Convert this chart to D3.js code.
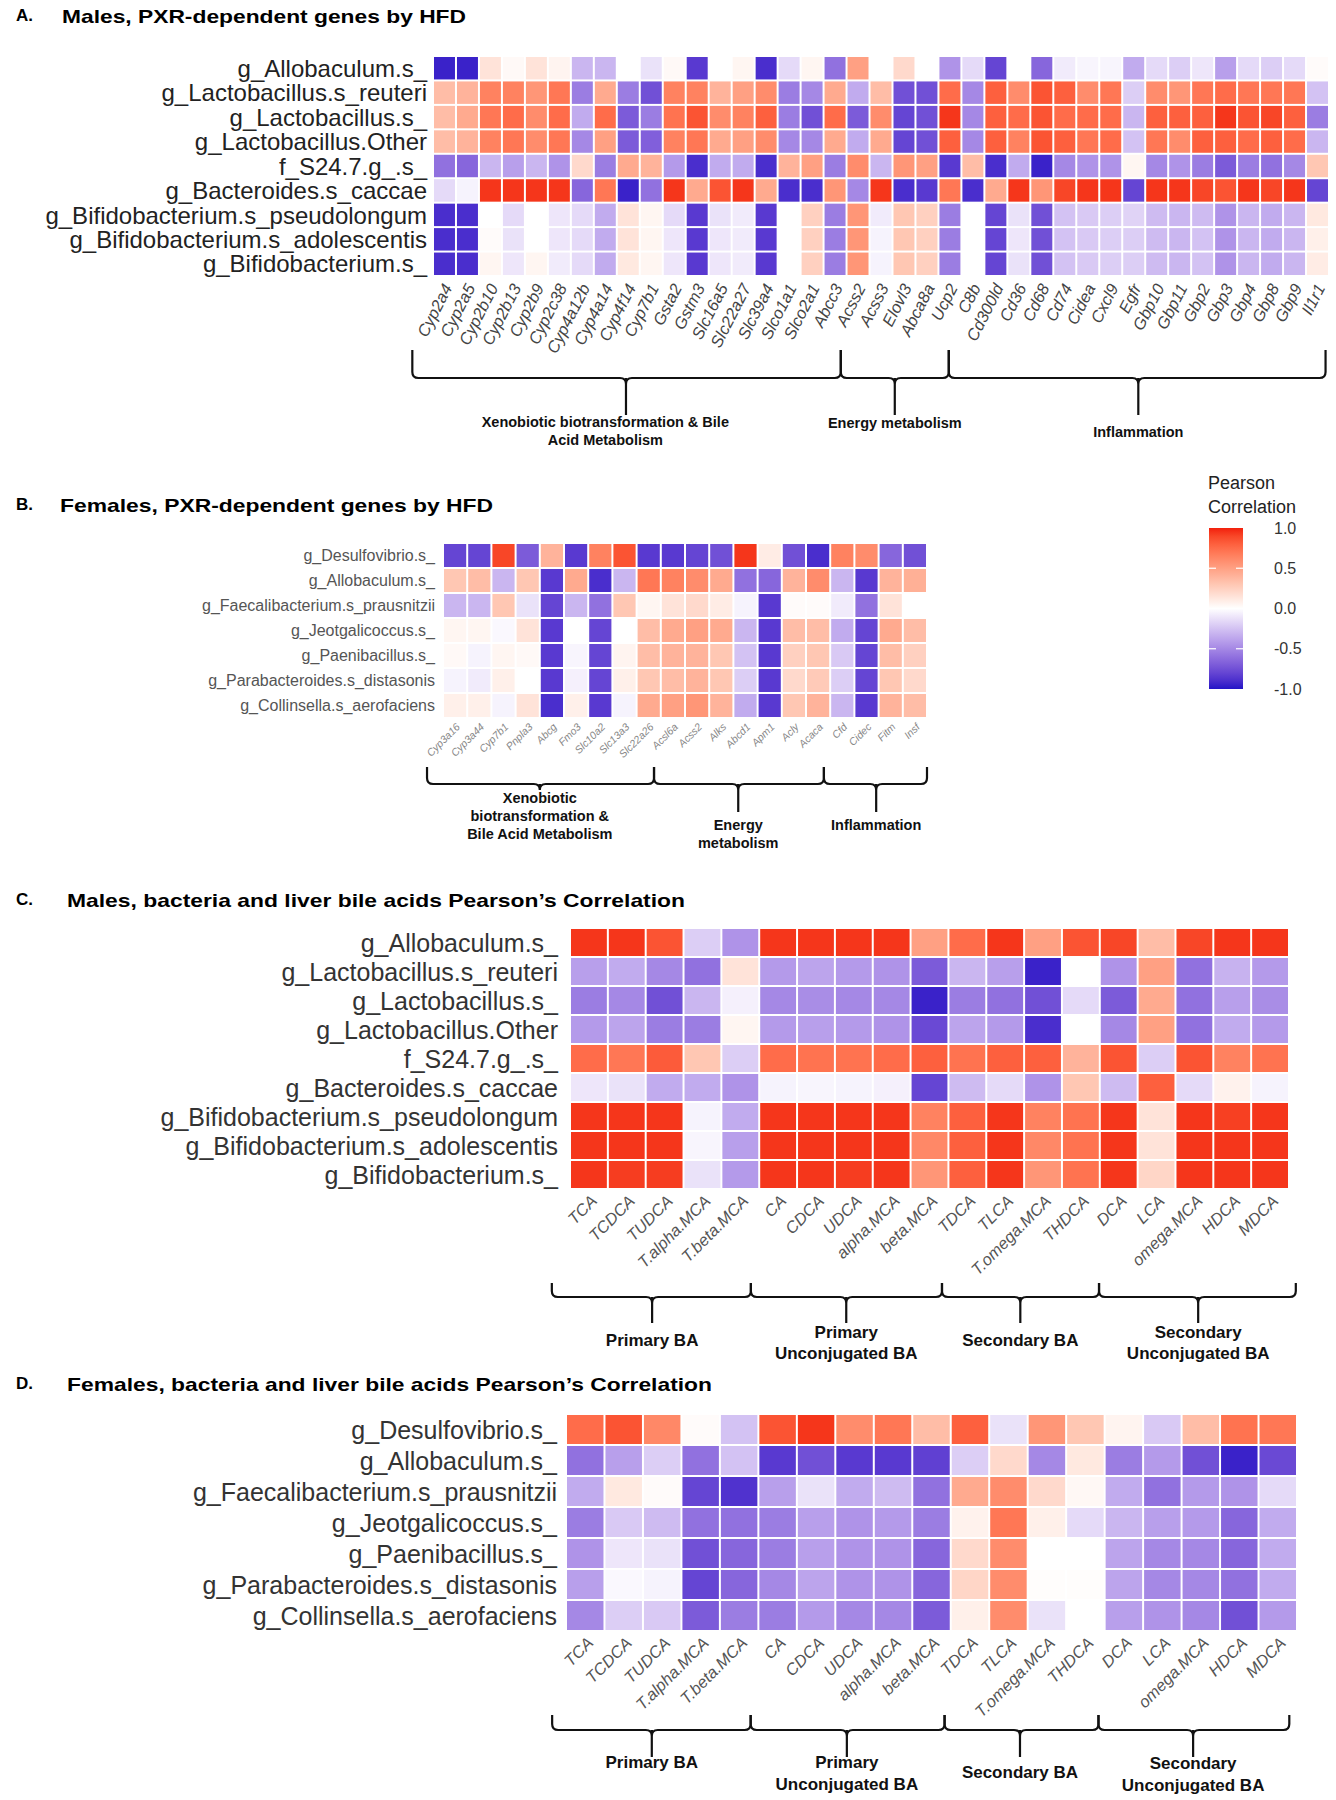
<!DOCTYPE html>
<html>
<head>
<meta charset="utf-8">
<script src="https://cdn.jsdelivr.net/npm/d3@7"></script>
<style>
body { margin: 0; background: #fff; }
svg { display: block; font-family: "Liberation Sans", Arial, sans-serif; }
</style>
</head>
<body>
<div id="chart"></div>
<script>
var width = 1336; // page width
var height = 1800; // page height

// ---- panel A : males, PXR-dependent genes ----
var rowsA = ["g_Allobaculum.s_", "g_Lactobacillus.s_reuteri", "g_Lactobacillus.s_", "g_Lactobacillus.Other",
	"f_S24.7.g_.s_", "g_Bacteroides.s_caccae", "g_Bifidobacterium.s_pseudolongum",
	"g_Bifidobacterium.s_adolescentis", "g_Bifidobacterium.s_"];
var colsA = ["Cyp2a4", "Cyp2a5", "Cyp2b10", "Cyp2b13", "Cyp2b9", "Cyp2c38", "Cyp4a12b", "Cyp4a14", "Cyp4f14",
	"Cyp7b1", "Gsta2", "Gstm3", "Slc16a5", "Slc22a27", "Slc39a4", "Slco1a1", "Slco2a1", "Abcc3", "Acss2",
	"Acss3", "Elovl3", "Abca8a", "Ucp2", "C8b", "Cd300ld", "Cd36", "Cd68", "Cd74", "Cidea", "Cxcl9", "Egfr",
	"Gbp10", "Gbp11", "Gbp2", "Gbp3", "Gbp4", "Gbp8", "Gbp9", "Il1r1"];
var valuesA = [
	[-0.95,-0.95,0.15,0.03,0.15,0.06,-0.3,-0.3,0,-0.12,0.03,-0.85,0,0.05,-0.9,-0.15,0.05,-0.6,0.5,0,0.2,0,-0.45,-0.15,-0.8,0,-0.65,-0.08,-0.04,-0.04,-0.35,-0.15,-0.2,-0.1,-0.4,-0.15,-0.2,-0.15,0.02],
	[0.35,0.4,0.65,0.65,0.55,0.7,-0.55,0.45,-0.55,-0.75,0.65,0.65,0.4,0.5,0.6,-0.55,-0.5,0.45,-0.35,0.35,-0.75,-0.75,0.75,-0.5,0.8,0.6,0.85,0.8,0.6,0.7,-0.2,0.6,0.55,0.7,0.75,0.7,0.7,0.7,-0.25],
	[0.35,0.45,0.7,0.75,0.6,0.75,-0.35,0.75,-0.7,-0.55,0.72,0.85,0.6,0.65,0.8,-0.55,-0.75,0.75,-0.7,0.6,-0.8,-0.75,0.95,-0.5,0.8,0.75,0.85,0.75,0.75,0.75,-0.3,0.8,0.8,0.8,0.95,0.85,0.9,0.8,-0.55],
	[0.35,0.4,0.65,0.7,0.6,0.7,-0.5,0.5,-0.7,-0.68,0.65,0.7,0.45,0.5,0.6,-0.5,-0.5,0.45,-0.35,0.45,-0.8,-0.75,0.8,-0.5,0.8,0.65,0.85,0.8,0.7,0.75,-0.25,0.7,0.6,0.8,0.8,0.75,0.8,0.75,-0.3],
	[-0.6,-0.65,-0.3,-0.4,-0.3,-0.45,0.2,-0.55,0.45,0.4,-0.42,-0.9,-0.35,-0.35,-0.9,0.4,0.5,-0.55,0.6,-0.3,0.55,0.5,-0.85,0.35,-0.9,-0.35,-0.95,-0.5,-0.45,-0.45,0.05,-0.5,-0.45,-0.55,-0.7,-0.55,-0.6,-0.5,0.3],
	[-0.15,-0.05,0.95,0.95,0.95,0.95,-0.65,0.7,-0.95,-0.6,0.95,0.45,0.85,0.95,0.45,-0.9,-0.9,0.55,-0.5,0.95,-0.9,-0.85,0.7,-0.9,0.45,0.95,0.55,0.9,0.95,0.95,-0.8,0.95,0.95,0.9,0.85,0.95,0.9,0.95,-0.8],
	[-0.9,-0.9,0,-0.15,0,-0.1,-0.15,-0.35,0.15,0.05,-0.15,-0.85,-0.12,-0.08,-0.85,0,0.25,-0.55,0.55,-0.08,0.3,0.25,-0.55,0,-0.8,-0.12,-0.75,-0.25,-0.22,-0.2,-0.18,-0.28,-0.3,-0.28,-0.45,-0.3,-0.35,-0.3,0.12],
	[-0.9,-0.9,0.02,-0.12,0,-0.1,-0.15,-0.35,0.15,0.05,-0.1,-0.85,-0.1,-0.08,-0.85,0,0.25,-0.55,0.55,-0.05,0.3,0.25,-0.55,0,-0.8,-0.1,-0.75,-0.25,-0.22,-0.2,-0.2,-0.28,-0.3,-0.25,-0.45,-0.3,-0.35,-0.3,0.08],
	[-0.9,-0.9,0.05,-0.1,0.05,-0.08,-0.15,-0.35,0.12,0.05,-0.1,-0.85,-0.1,-0.08,-0.85,0,0.25,-0.55,0.55,-0.05,0.3,0.25,-0.55,0,-0.8,-0.12,-0.75,-0.25,-0.22,-0.2,-0.2,-0.28,-0.3,-0.25,-0.45,-0.3,-0.35,-0.3,0.1]
];
var groupsA = [["Xenobiotic biotransformation & Bile", "Acid Metabolism"], ["Energy metabolism"], ["Inflammation"]];

// ---- panel B : females, PXR-dependent genes ----
var rowsB = ["g_Desulfovibrio.s_", "g_Allobaculum.s_", "g_Faecalibacterium.s_prausnitzii", "g_Jeotgalicoccus.s_",
	"g_Paenibacillus.s_", "g_Parabacteroides.s_distasonis", "g_Collinsella.s_aerofaciens"];
var colsB = ["Cyp3a16", "Cyp3a44", "Cyp7b1", "Pnpla3", "Abcg", "Fmo3", "Slc10a2", "Slc13a3", "Slc22a26",
	"Acsl6a", "Acss2", "Alks", "Abcd1", "Apm1", "Acly", "Acaca", "Cfd", "Cidec", "Fitm", "Insf"];
var valuesB = [
	[-0.8,-0.8,0.9,-0.7,0.4,-0.85,0.65,0.85,-0.85,-0.85,-0.8,-0.75,0.95,0.1,-0.75,-0.9,0.65,0.6,-0.65,-0.75],
	[0.3,0.35,-0.3,0.3,-0.85,0.45,-0.9,-0.3,0.7,0.65,0.6,0.45,-0.6,-0.65,0.4,0.6,-0.3,-0.85,0.4,0.42],
	[-0.3,-0.3,0.3,-0.12,-0.8,-0.3,-0.6,0.3,0.05,0.15,0.2,0.1,-0.05,-0.85,0.02,0.02,-0.08,-0.6,0.15,0],
	[0.05,0.05,-0.03,0.15,-0.85,0,-0.8,0,0.35,0.45,0.5,0.45,-0.3,-0.85,0.35,0.35,-0.35,-0.8,0.45,0.35],
	[0.03,-0.05,0.05,0.03,-0.85,-0.04,-0.8,0.06,0.35,0.4,0.4,0.3,-0.25,-0.85,0.25,0.3,-0.22,-0.8,0.35,0.25],
	[-0.05,-0.08,0.08,0,-0.85,-0.06,-0.8,0.08,0.3,0.35,0.4,0.3,-0.2,-0.85,0.2,0.28,-0.2,-0.8,0.3,0.2],
	[0.08,0.08,-0.05,0.15,-0.9,0.08,-0.85,-0.05,0.45,0.5,0.55,0.4,-0.35,-0.85,0.3,0.4,-0.3,-0.85,0.4,0.35]
];
var groupsB = [["Xenobiotic", "biotransformation &", "Bile Acid Metabolism"], ["Energy", "metabolism"], ["Inflammation"]];

// ---- panel C : males, bile acids ----
var rowsC = rowsA;
var colsC = ["TCA", "TCDCA", "TUDCA", "T.alpha.MCA", "T.beta.MCA", "CA", "CDCA", "UDCA", "alpha.MCA", "beta.MCA",
	"TDCA", "TLCA", "T.omega.MCA", "THDCA", "DCA", "LCA", "omega.MCA", "HDCA", "MDCA"];
var valuesC = [
	[0.95,0.95,0.85,-0.2,-0.45,0.95,0.95,0.95,0.95,0.5,0.75,0.95,0.5,0.85,0.9,0.35,0.9,0.95,0.95],
	[-0.4,-0.35,-0.5,-0.6,0.15,-0.42,-0.38,-0.42,-0.45,-0.7,-0.3,-0.4,-0.95,0,-0.45,0.5,-0.6,-0.32,-0.42],
	[-0.55,-0.5,-0.75,-0.3,-0.06,-0.5,-0.48,-0.5,-0.5,-0.95,-0.55,-0.6,-0.75,-0.15,-0.7,0.45,-0.6,-0.4,-0.48],
	[-0.42,-0.38,-0.55,-0.55,0.05,-0.42,-0.4,-0.42,-0.45,-0.78,-0.38,-0.42,-0.9,0,-0.5,0.5,-0.6,-0.35,-0.42],
	[0.75,0.7,0.82,0.3,-0.2,0.75,0.72,0.72,0.75,0.8,0.72,0.8,0.8,0.4,0.85,-0.2,0.85,0.65,0.72],
	[-0.1,-0.12,-0.35,-0.35,-0.45,-0.05,-0.04,-0.05,-0.06,-0.8,-0.28,-0.15,-0.45,0.3,-0.28,0.8,-0.15,0.07,-0.05],
	[0.95,0.95,0.95,-0.05,-0.35,0.95,0.95,0.95,0.95,0.65,0.8,0.95,0.65,0.72,0.95,0.15,0.95,0.92,0.95],
	[0.95,0.95,0.95,-0.04,-0.4,0.95,0.95,0.95,0.95,0.62,0.8,0.95,0.62,0.72,0.95,0.15,0.95,0.95,0.95],
	[0.95,0.93,0.93,-0.12,-0.42,0.95,0.95,0.93,0.95,0.55,0.8,0.95,0.55,0.72,0.95,0.22,0.95,0.95,0.95]
];
var groupsBA = [["Primary BA"], ["Primary", "Unconjugated BA"], ["Secondary  BA"], ["Secondary", "Unconjugated BA"]];

// ---- panel D : females, bile acids ----
var rowsD = rowsB;
var colsD = colsC;
var valuesD = [
	[0.75,0.85,0.62,0.02,-0.25,0.85,0.95,0.6,0.7,0.35,0.8,-0.12,0.55,0.3,0.06,-0.22,0.35,0.72,0.7],
	[-0.6,-0.4,-0.2,-0.6,-0.25,-0.85,-0.75,-0.85,-0.85,-0.82,-0.2,0.2,-0.5,0.12,-0.55,-0.42,-0.75,-0.95,-0.78],
	[-0.35,0.12,0.02,-0.8,-0.88,-0.4,-0.12,-0.35,-0.28,-0.6,0.45,0.6,0.2,0.04,-0.35,-0.6,-0.42,-0.45,-0.15],
	[-0.55,-0.22,-0.28,-0.6,-0.6,-0.55,-0.4,-0.45,-0.42,-0.55,0.07,0.7,0.08,-0.15,-0.3,-0.4,-0.42,-0.65,-0.35],
	[-0.45,-0.1,-0.12,-0.75,-0.65,-0.55,-0.4,-0.45,-0.45,-0.65,0.2,0.6,0,0,-0.38,-0.5,-0.5,-0.65,-0.35],
	[-0.4,-0.03,-0.05,-0.8,-0.65,-0.5,-0.38,-0.45,-0.45,-0.65,0.22,0.6,0.01,0.01,-0.38,-0.5,-0.5,-0.6,-0.35],
	[-0.5,-0.2,-0.22,-0.7,-0.55,-0.55,-0.42,-0.5,-0.5,-0.7,0.08,0.6,-0.12,0,-0.4,-0.45,-0.5,-0.75,-0.42]
];

// legend
var legendTicks = [1.0, 0.5, 0.0, -0.5, -1.0];

// shared colour scale (blue - white - red)
var color = d3.scaleLinear()
	.domain([-1, 0, 1])
	.range(["#2314c6", "#ffffff", "#f2200c"])
	.interpolate(d3.interpolateLab);

var svg = d3.select("#chart").append("svg")
	.attr("width", width)
	.attr("height", height);

// layout of each panel (positions only, values come from the arrays above)
var panels = [
	{letter: "A.", title: "Males, PXR-dependent genes by HFD", tx: 62, ty: 23, tw: 404,
		rows: rowsA, cols: colsA, values: valuesA, x0: 433, x1: 1329, y0: 56, y1: 276,
		rowX: 427, rowFont: 24, rowColor: "#222",
		colFont: 16.5, colAngle: 63, colDx: 3, colDy: 9, colColor: "#444",
		groups: groupsA, ticks: [-0.9, 17.75, 22.45, 38.85], spikes: [8.4, 20.1, 30.7],
		labelAt: [7.5, 20.1, 30.7], bTop: 350, bH: 378, bSpike: [415, 415, 415],
		labelY: [427, 428, 437], labelFont: 14.5, lineGap: 18},
	{letter: "B.", title: "Females, PXR-dependent genes by HFD", tx: 60, ty: 512, tw: 433,
		rows: rowsB, cols: colsB, values: valuesB, x0: 443, x1: 927, y0: 543, y1: 718,
		rowX: 435, rowFont: 16, rowColor: "#555",
		colFont: 10.5, colAngle: 45, colDx: 3, colDy: 7, colColor: "#888",
		groups: groupsB, ticks: [-0.66, 8.72, 15.74, 20.0], spikes: [4.0, 12.2, 17.9],
		labelAt: [4.0, 12.2, 17.9], bTop: 767, bH: 784, bSpike: [788, 812, 812],
		labelY: [803, 830, 830], labelFont: 14.5, lineGap: 18},
	{letter: "C.", title: "Males, bacteria and liver bile acids Pearson\u2019s Correlation", tx: 67, ty: 907, tw: 618,
		rows: rowsC, cols: colsC, values: valuesC, x0: 570, x1: 1289, y0: 928, y1: 1189,
		rowX: 558, rowFont: 25, rowColor: "#333",
		colFont: 16.5, colAngle: 45, colDx: 5, colDy: 9, colColor: "#555",
		groups: groupsBA, ticks: [-0.48, 4.78, 9.83, 13.98, 19.18], spikes: [2.17, 7.3, 11.9, 16.6],
		labelAt: [2.17, 7.3, 11.9, 16.6], bTop: 1283, bH: 1297, bSpike: [1323, 1323, 1323, 1323],
		labelY: [1346, 1338, 1346, 1338], labelFont: 17, lineGap: 21},
	{letter: "D.", title: "Females, bacteria and liver bile acids Pearson\u2019s Correlation", tx: 67, ty: 1391, tw: 645,
		rows: rowsD, cols: colsD, values: valuesD, x0: 566, x1: 1297, y0: 1414, y1: 1631,
		rowX: 557, rowFont: 25, rowColor: "#333",
		colFont: 16.5, colAngle: 45, colDx: 5, colDy: 9, colColor: "#555",
		groups: groupsBA, ticks: [-0.36, 4.8, 9.84, 13.84, 18.8], spikes: [2.23, 7.3, 11.8, 16.3],
		labelAt: [2.23, 7.3, 11.8, 16.3], bTop: 1715, bH: 1730, bSpike: [1757, 1757, 1757, 1757],
		labelY: [1768, 1768, 1778, 1769], labelFont: 17, lineGap: 22}
];

panels.forEach(draw_panel);
draw_legend();

function draw_panel(p) {
	var g = svg.append("g");
	var x = d3.scaleBand().domain(p.cols).range([p.x0, p.x1]);
	var y = d3.scaleBand().domain(p.rows).range([p.y0, p.y1]);

	// title
	g.append("text")
		.attr("x", 16).attr("y", p.ty - 2)
		.style("font-size", "17px").style("font-weight", "bold")
		.text(p.letter);
	g.append("text")
		.attr("x", p.tx).attr("y", p.ty)
		.attr("textLength", p.tw).attr("lengthAdjust", "spacingAndGlyphs")
		.style("font-size", "19px").style("font-weight", "bold")
		.text(p.title);

	// cells
	var cells = [];
	p.values.forEach(function (row, i) {
		row.forEach(function (v, j) {
			cells.push({row: p.rows[i], col: p.cols[j], value: v});
		});
	});
	g.selectAll("rect.cell").data(cells).enter().append("rect")
		.attr("class", "cell")
		.attr("x", d => x(d.col) + 1)
		.attr("y", d => y(d.row) + 1)
		.attr("width", x.bandwidth() - 2)
		.attr("height", y.bandwidth() - 2)
		.attr("fill", d => color(d.value));

	// row labels
	g.selectAll("text.row").data(p.rows).enter().append("text")
		.attr("class", "row")
		.attr("x", p.rowX)
		.attr("y", d => y(d) + y.bandwidth() / 2)
		.attr("dy", "0.36em")
		.attr("text-anchor", "end")
		.style("font-size", p.rowFont + "px")
		.style("fill", p.rowColor)
		.text(d => d);

	// column labels, rotated
	g.selectAll("text.col").data(p.cols).enter().append("text")
		.attr("class", "col")
		.attr("transform", d => `translate(${x(d) + x.bandwidth() / 2 + p.colDx}, ${p.y1 + p.colDy}) rotate(${-p.colAngle})`)
		.attr("text-anchor", "end")
		.attr("dy", "0.35em")
		.style("font-size", p.colFont + "px")
		.style("font-style", "italic")
		.style("fill", p.colColor)
		.text(d => d);

	// curly braces under the columns
	var ux = u => p.x0 + u * x.step();
	var r = 6;
	p.groups.forEach(function (lines, i) {
		var a = ux(p.ticks[i]), b = ux(p.ticks[i + 1]), c = ux(p.spikes[i]);
		var path = `M${a},${p.bTop} L${a},${p.bH - r} Q${a},${p.bH} ${a + r},${p.bH} L${c - r},${p.bH} Q${c},${p.bH} ${c},${p.bH + r}`
			+ ` M${c},${p.bH + r} Q${c},${p.bH} ${c + r},${p.bH} L${b - r},${p.bH} Q${b},${p.bH} ${b},${p.bH - r} L${b},${p.bTop}`
			+ ` M${c},${p.bH} L${c},${Math.max(p.bSpike[i], p.bH + r)}`;
		g.append("path")
			.attr("d", path)
			.attr("fill", "none")
			.attr("stroke", "#111")
			.attr("stroke-width", 2.2);

		lines.forEach(function (line, k) {
			g.append("text")
				.attr("x", ux(p.labelAt[i]))
				.attr("y", p.labelY[i] + k * p.lineGap)
				.attr("text-anchor", "middle")
				.style("font-size", p.labelFont + "px")
				.style("font-weight", "bold")
				.style("fill", "#111")
				.text(line);
		});
	});
}

function draw_legend() {
	var lg = svg.append("g");
	var ly = d3.scaleLinear().domain([-1, 1]).range([689, 528]);

	lg.append("text").attr("x", 1208).attr("y", 489)
		.style("font-size", "18px").style("fill", "#222").text("Pearson");
	lg.append("text").attr("x", 1208).attr("y", 513)
		.style("font-size", "18px").style("fill", "#222").text("Correlation");

	var grad = svg.append("defs").append("linearGradient")
		.attr("id", "pearson").attr("x1", 0).attr("y1", 1).attr("x2", 0).attr("y2", 0);
	d3.range(-1, 1.0001, 0.1).forEach(function (v) {
		grad.append("stop")
			.attr("offset", ((v + 1) / 2 * 100) + "%")
			.attr("stop-color", color(v));
	});
	lg.append("rect")
		.attr("x", 1209).attr("y", ly(1))
		.attr("width", 34).attr("height", ly(-1) - ly(1))
		.attr("fill", "url(#pearson)");

	lg.selectAll("line.tick").data(legendTicks.slice(1, 4)).enter().append("line")
		.attr("x1", 1209).attr("x2", 1216)
		.attr("y1", d => ly(d)).attr("y2", d => ly(d))
		.attr("stroke", "#fff").attr("stroke-width", 1.2);
	lg.selectAll("line.tick2").data(legendTicks.slice(1, 4)).enter().append("line")
		.attr("x1", 1236).attr("x2", 1243)
		.attr("y1", d => ly(d)).attr("y2", d => ly(d))
		.attr("stroke", "#fff").attr("stroke-width", 1.2);

	lg.selectAll("text.tl").data(legendTicks).enter().append("text")
		.attr("x", 1274)
		.attr("y", d => ly(d))
		.attr("dy", "0.35em")
		.style("font-size", "16px")
		.style("fill", "#333")
		.text(d => d.toFixed(1));
}
</script>
</body>
</html>
